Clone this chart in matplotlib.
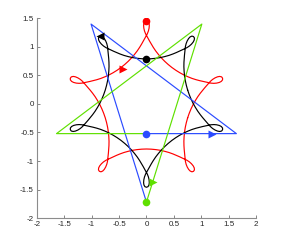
import numpy as np
import matplotlib
matplotlib.use("Agg")
import matplotlib.pyplot as plt

plt.rcParams["font.family"] = ["Liberation Sans", "DejaVu Sans"]
plt.rcParams["axes.unicode_minus"] = False

# half of one looped lobe, tip pointing along +x:
# from the loop tip, round the loop, out to the middle of the inner arc
lobe_u = [1.460, 1.450, 1.420, 1.380, 1.330, 1.280, 1.230, 1.190, 1.150,
          1.100, 1.050, 0.993, 0.930, 0.868, 0.807, 0.748, 0.692, 0.639]
lobe_v = [0.000, -0.028, -0.046, -0.052, -0.048, -0.036, -0.016, 0.006, 0.030,
          0.058, 0.088, 0.124, 0.168, 0.218, 0.272, 0.332, 0.396, 0.464]

# directions of the loop tips (degrees)
red_tips = [90, 162, 234, 306, 18]
black_tips = [270, 342, 54, 126, 198]

# the two halves of the star orbit
blue_x = [0.0, 1.64, -1.01, 0.0]
blue_y = [-0.52, -0.52, 1.40, -1.72]
green_x = [0.0, 1.01, -1.64, 0.0]
green_y = [-1.72, 1.40, -0.52, -0.52]

# start points (dots) and later positions (triangles)
dot_x = {"red": 0.0, "black": 0.0, "blue": 0.0, "green": 0.0}
dot_y = {"red": 1.46, "black": 0.79, "blue": -0.52, "green": -1.72}
tri_x = {"red": -0.42, "black": -0.85, "blue": 1.19, "green": 0.115}
tri_y = {"red": 0.62, "black": 1.19, "blue": -0.52, "green": -1.365}
tri_marker = {"red": ">", "black": "<", "blue": ">", "green": ">"}

colors = {"red": "#ff0000", "black": "#000000", "blue": "#2b4bff", "green": "#5fe000"}


def looped_orbit(tips):
    u = np.asarray(lobe_u)
    v = np.asarray(lobe_v)
    lu = np.concatenate([u[::-1], u[1:]])
    lv = np.concatenate([-v[::-1], v[1:]])
    xs, ys = [], []
    for deg in sorted(tips):
        th = np.deg2rad(deg)
        xs.append(lu * np.cos(th) - lv * np.sin(th))
        ys.append(lu * np.sin(th) + lv * np.cos(th))
    x = np.concatenate(xs)
    y = np.concatenate(ys)
    return np.append(x, x[0]), np.append(y, y[0])


fig = plt.figure(figsize=(2.83, 2.45), dpi=100)
ax = fig.add_axes([0.13, 0.11, 0.775, 0.815])

lw = 0.85
rx, ry = looped_orbit(red_tips)
bx, by = looped_orbit(black_tips)
ax.plot(rx, ry, color=colors["red"], lw=lw)
ax.plot(bx, by, color=colors["black"], lw=lw)
ax.plot(blue_x, blue_y, color=colors["blue"], lw=lw)
ax.plot(green_x, green_y, color=colors["green"], lw=lw)

for name in ["red", "black", "blue", "green"]:
    ax.plot(dot_x[name], dot_y[name], "o", color=colors[name], ms=5.5, mec="none")
    ax.plot(tri_x[name], tri_y[name], tri_marker[name], color=colors[name], ms=6, mec="none")

ax.set_xlim(-2, 2)
ax.set_ylim(-2, 1.5)
ax.set_xticks(np.arange(-2, 2.01, 0.5))
ax.set_yticks(np.arange(-2, 1.51, 0.5))
ax.set_xticklabels(["-2", "-1.5", "-1", "-0.5", "0", "0.5", "1", "1.5", "2"])
ax.set_yticklabels(["-2", "-1.5", "-1", "-0.5", "0", "0.5", "1", "1.5"])

for side in ["top", "right"]:
    ax.spines[side].set_visible(False)
for side in ["left", "bottom"]:
    ax.spines[side].set_color("0.55")
    ax.spines[side].set_linewidth(0.8)
ax.tick_params(direction="in", length=2.5, width=0.6, color="0.45",
               labelsize=5.8, labelcolor="0.15", pad=2)

fig.savefig("out.png", dpi=100)
